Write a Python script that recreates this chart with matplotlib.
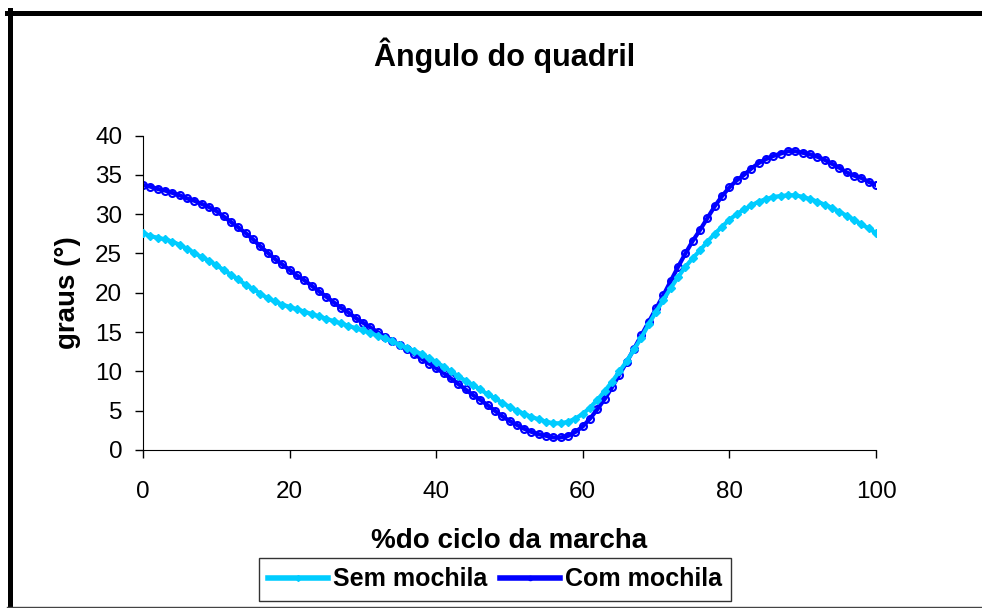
import numpy as np
import matplotlib
matplotlib.use("Agg")
import matplotlib.pyplot as plt
from matplotlib.lines import Line2D

plt.rcParams['font.family'] = ['Liberation Sans', 'DejaVu Sans']

# % of gait cycle, 0..100
ciclo = list(range(0, 101))

# hip angle without backpack
sem_mochila = [27.6, 27.2, 27.0, 26.8, 26.5, 26.1, 25.6, 25.1, 24.5, 24.1,
               23.5, 22.9, 22.3, 21.7, 21.0, 20.5, 19.9, 19.3, 18.9, 18.5,
               18.2, 17.9, 17.6, 17.3, 17.0, 16.7, 16.4, 16.1, 15.8, 15.5,
               15.2, 14.9, 14.5, 14.2, 13.8, 13.4, 13.0, 12.6, 12.2, 11.7,
               11.2, 10.6, 10.0, 9.4, 8.8, 8.3, 7.7, 7.1, 6.6, 6.0,
               5.5, 5.0, 4.6, 4.2, 3.9, 3.6, 3.4, 3.4, 3.6, 4.0,
               4.6, 5.4, 6.4, 7.5, 8.7, 10.0, 11.3, 12.8, 14.3, 16.0,
               17.6, 19.1, 20.6, 22.0, 23.3, 24.4, 25.4, 26.5, 27.5, 28.4,
               29.3, 30.0, 30.6, 31.1, 31.6, 31.9, 32.2, 32.3, 32.4, 32.4,
               32.2, 31.9, 31.6, 31.2, 30.8, 30.3, 29.8, 29.3, 28.7, 28.2,
               27.6]

# hip angle with backpack
com_mochila = [33.7, 33.5, 33.2, 33.0, 32.7, 32.4, 32.0, 31.7, 31.3, 30.9,
               30.4, 29.7, 29.0, 28.3, 27.6, 26.8, 25.9, 25.1, 24.3, 23.6,
               22.9, 22.2, 21.6, 20.9, 20.2, 19.5, 18.8, 18.1, 17.5, 16.8,
               16.2, 15.6, 15.0, 14.4, 13.9, 13.3, 12.8, 12.2, 11.6, 11.0,
               10.4, 9.8, 9.1, 8.4, 7.7, 7.0, 6.4, 5.7, 5.0, 4.3,
               3.7, 3.2, 2.7, 2.3, 2.0, 1.8, 1.6, 1.6, 1.8, 2.3,
               3.0, 4.0, 5.2, 6.5, 8.0, 9.6, 11.2, 12.9, 14.6, 16.3,
               18.0, 19.7, 21.5, 23.3, 25.0, 26.6, 28.0, 29.5, 31.0, 32.3,
               33.4, 34.3, 35.0, 35.8, 36.5, 37.0, 37.4, 37.7, 38.0, 38.0,
               37.8, 37.6, 37.3, 36.9, 36.4, 35.9, 35.3, 34.9, 34.6, 34.1,
               33.7]

x_ticks = [0, 20, 40, 60, 80, 100]
y_ticks = [0, 5, 10, 15, 20, 25, 30, 35, 40]

W, H = 982, 608
fig = plt.figure(figsize=(W / 100, H / 100), dpi=100)
ax = fig.add_axes([143 / W, 1 - 450 / H, (876 - 143) / W, (450 - 135.5) / H])

ax.plot(ciclo, sem_mochila, color='#00CCFF', lw=3.0, marker='D', ms=4,
        mec='#00CCFF', mfc='#00CCFF', label='Sem mochila', zorder=3)
ax.plot(ciclo, com_mochila, color='#0000FF', lw=3.0, marker='o', ms=5,
        mec='#0000FF', mfc='none', mew=1.5, label='Com mochila', zorder=2)

ax.set_xlim(0, 100)
ax.set_ylim(0, 40)
ax.set_xticks(x_ticks)
ax.set_yticks(y_ticks)
ax.spines['top'].set_visible(False)
ax.spines['right'].set_visible(False)
ax.tick_params(direction='out', length=6, width=1, labelsize=17.5)
ax.tick_params(axis='x', pad=16)
ax.tick_params(axis='y', pad=9)

ax.set_xlabel('%do ciclo da marcha', fontsize=20, fontweight='bold', labelpad=18)
ax.set_ylabel('graus (°)', fontsize=20, fontweight='bold', labelpad=10)
fig.text(505 / W, 1 - 55 / H, 'Ângulo do quadril', fontsize=22,
         fontweight='bold', ha='center', va='center')

handles = [Line2D([], [], color='#00CCFF', lw=4, marker='D', ms=3),
           Line2D([], [], color='#0000FF', lw=4, marker='o', ms=3)]
leg = fig.legend(handles, ['Sem mochila', 'Com mochila'], ncol=2,
                 loc='center', bbox_to_anchor=(495 / W, 1 - 579.5 / H),
                 prop={'size': 18, 'weight': 'bold'}, frameon=True,
                 fancybox=False, edgecolor='black', handlelength=2.4,
                 handletextpad=0.2, columnspacing=0.5, borderpad=0.38,
                 borderaxespad=0)
leg.get_frame().set_linewidth(1.0)

# chart border (thick top/left, thin bottom)
fig.add_artist(Line2D([7 / W, 1.0], [1 - 12.5 / H, 1 - 12.5 / H],
                      color='black', lw=3.6, transform=fig.transFigure))
fig.add_artist(Line2D([10 / W, 10 / W], [1 - 10 / H, 0.0],
                      color='black', lw=3.6, transform=fig.transFigure))
fig.add_artist(Line2D([7 / W, 1.0], [1 - 606.5 / H, 1 - 606.5 / H],
                      color='#444444', lw=1.0, transform=fig.transFigure))

fig.savefig('out.png', dpi=100)
